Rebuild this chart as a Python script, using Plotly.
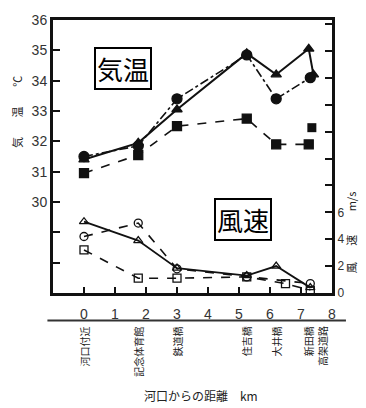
import plotly.graph_objects as go

# distance from the river mouth (km) of each observation point
stations = ["河口付近", "記念体育館", "鉄道橋", "住吉橋", "大井橋", "新田橋", "高架道路"]
station_km = [0, 1.75, 3, 5.25, 6.2, 7.25, 7.7]

# air temperature (deg C)
temp_a_x = [0, 1.75, 3, 5.25, 6.2, 7.25, 7.4]
temp_a = [31.4, 31.95, 33.05, 34.9, 34.2, 35.05, 34.2]
temp_b_x = [0, 1.75, 3, 5.25, 6.2, 7.3]
temp_b = [31.5, 31.85, 33.4, 34.85, 33.4, 34.1]
temp_c_x = [0, 1.75, 3, 5.25, 6.2, 7.25]
temp_c = [30.95, 31.55, 32.5, 32.75, 31.9, 31.9]
temp_c_extra_x = [7.35]
temp_c_extra = [32.45]

# wind speed (m/s)
wind_a_x = [0, 1.75, 3, 5.25, 6.2, 7.3]
wind_a = [5.3, 3.9, 1.85, 1.3, 2.0, 0.4]
wind_b_x = [0, 1.75, 3, 5.25, 7.3]
wind_b = [4.2, 5.2, 1.8, 1.2, 0.7]
wind_c_x = [0, 1.75, 3, 5.25, 6.5, 7.3]
wind_c = [3.2, 1.1, 1.1, 1.2, 0.7, 0.2]

km_ticks = list(range(0, 9))
temp_ticks = list(range(28, 37))
temp_tick_text = ["", ""] + [str(t) for t in range(30, 37)]
wind_ticks = list(range(0, 21, 2))
wind_tick_text = ["0", "2", "4", "6"] + [""] * 7

ink = "#111111"
fig = go.Figure()

def line(x, y, dash, symbol, yaxis="y", size=9, width=1.6):
    fig.add_trace(go.Scatter(
        x=x, y=y, yaxis=yaxis, mode="lines+markers",
        line=dict(color=ink, width=width, dash=dash),
        marker=dict(symbol=symbol, size=size, color=ink,
                    line=dict(color=ink, width=1.3)),
        showlegend=False))

line(temp_a_x, temp_a, "solid", "triangle-up", width=2)
line(temp_b_x, temp_b, "dashdot", "circle", size=10)
line(temp_c_x, temp_c, "dash", "square", size=9)
fig.add_trace(go.Scatter(x=temp_c_extra_x, y=temp_c_extra, mode="markers",
                         marker=dict(symbol="square", size=9, color=ink),
                         showlegend=False))

line(wind_a_x, wind_a, "solid", "triangle-up-open", yaxis="y2", size=8, width=1.8)
line(wind_b_x, wind_b, "dash", "circle-open", yaxis="y2", size=8)
line(wind_c_x, wind_c, "dash", "square-open", yaxis="y2", size=8)

tick_font = dict(family="Liberation Sans, Arial", size=14, color="#333")

fig.update_layout(
    width=366, height=408,
    margin=dict(l=53, r=34, t=16, b=115),
    paper_bgcolor="white", plot_bgcolor="white",
    xaxis=dict(range=[-1, 8], tickvals=km_ticks, ticks="inside", ticklen=6,
               tickwidth=2, tickcolor=ink, showgrid=False, zeroline=False,
               showline=True, linecolor=ink, linewidth=3, mirror=True,
               tickfont=tick_font, ticklabelstandoff=6),
    yaxis=dict(range=[27, 36], tickvals=temp_ticks, ticktext=temp_tick_text,
               ticks="inside", ticklen=7, tickwidth=2, tickcolor=ink,
               showgrid=False, zeroline=False, showline=True, linecolor=ink,
               linewidth=3, tickfont=tick_font),
    yaxis2=dict(range=[0, 20.3], tickvals=wind_ticks, ticktext=wind_tick_text,
                overlaying="y", side="right", ticks="inside", ticklen=7,
                tickwidth=2, tickcolor=ink, showgrid=False, zeroline=False,
                showline=True, linecolor=ink, linewidth=3,
                tickfont=dict(family="Liberation Sans, Arial", size=12, color="#333")),
)

def note(x, y, text, font, xref="paper", angle=0, xanchor="center",
         yanchor="middle", **kw):
    fig.add_annotation(x=x, y=y, xref=xref, yref="paper", text=text,
                       textangle=angle, showarrow=False, font=font,
                       xanchor=xanchor, yanchor=yanchor, **kw)

# boxed titles
box_font = dict(family="Noto Sans CJK JP", size=26, color="black")
note(0.251, 0.822, "気温", box_font, bordercolor="black", borderwidth=2,
     borderpad=1, bgcolor="white")
note(0.681, 0.268, "風速", box_font, bordercolor="black", borderwidth=2,
     borderpad=1, bgcolor="white")

# axis captions, drawn character by character
small = dict(family="Noto Sans CJK JP", size=11, color="#222")
for ch, py in [("℃", 78), ("温", 109), ("気", 140)]:
    note(-0.13, (293 - py) / 277, ch, small, angle=-90)
for ch, py in [("m/s", 200), ("速", 239), ("風", 267)]:
    note(1.068, (293 - py) / 277, ch, small, angle=-90)

# rule under the distance ticks
fig.add_shape(type="line", xref="paper", yref="paper",
              x0=-0.02, x1=1.05, y0=-0.101, y1=-0.101,
              line=dict(color="#333", width=2))

# observation point names
for name, km in zip(stations, station_km):
    note(km, -0.115, name, dict(family="Noto Sans CJK JP", size=10, color="#222"),
         xref="x", angle=-90, yanchor="top")

note(0.53, -0.375, "河口からの距離　km",
     dict(family="Noto Sans CJK JP", size=12, color="#222"))

fig.write_html("out.html")
